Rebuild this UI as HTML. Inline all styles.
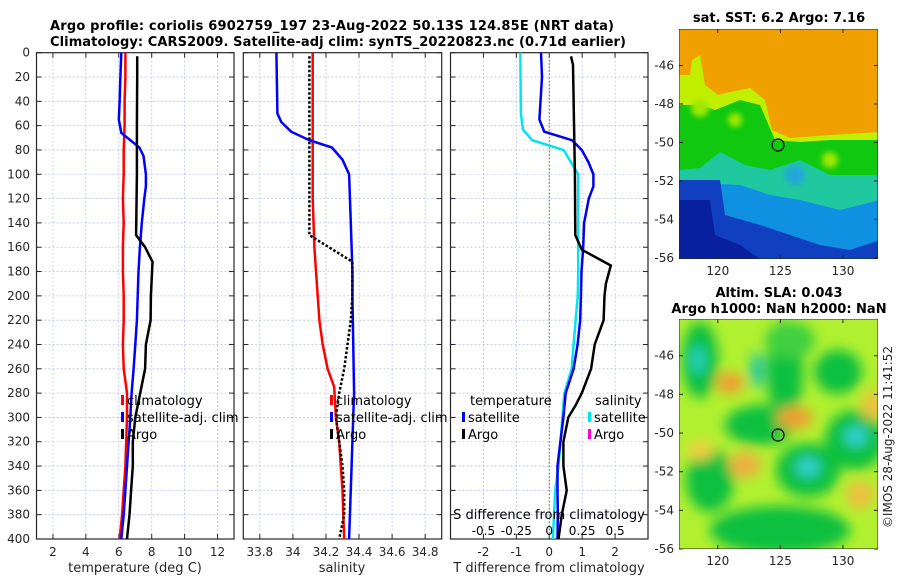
<!DOCTYPE html>
<html><head><meta charset="utf-8"><style>
body{margin:0;background:#fff;}
svg{display:block;font-family:"DejaVu Sans","Liberation Sans",sans-serif;}
.tk{font-size:12px;fill:#262626;}
.tt{font-size:13px;font-weight:bold;fill:#000;}
</style></head><body>
<svg id="fig" width="900" height="580" viewBox="0 0 900 580" xmlns="http://www.w3.org/2000/svg">
<defs>
<filter id="bl" x="-50%" y="-50%" width="200%" height="200%"><feGaussianBlur stdDeviation="6"/></filter>
<filter id="bl2" x="-50%" y="-50%" width="200%" height="200%"><feGaussianBlur stdDeviation="3"/></filter>
<clipPath id="cTop"><rect x="679" y="29" width="199" height="230"/></clipPath>
<clipPath id="cBot"><rect x="679" y="319" width="199" height="230"/></clipPath>
</defs>
<text class="tt" x="50" y="30" textLength="564">Argo profile: coriolis 6902759_197 23-Aug-2022 50.13S 124.85E (NRT data)</text>
<text class="tt" x="50" y="46" textLength="576">Climatology: CARS2009. Satellite-adj clim: synTS_20220823.nc (0.71d earlier)</text>
<g id="panels"></g>
<!-- SST map -->
<g clip-path="url(#cTop)">
<rect x="679" y="29" width="199" height="230" fill="#f0a000"/>
<path d="M679,75 L690,75 L692,60 L700,55 L705,85 L718,95 L730,92 L750,88 L765,100 L772,130 L790,138 L830,135 L880,132 L880,259 L679,259Z" fill="#c0f000"/>
<path d="M679,105 L700,105 L715,110 L740,100 L760,105 L775,140 L800,142 L830,140 L880,140 L880,259 L679,259Z" fill="#10c810"/>
<circle cx="700" cy="108" r="9" fill="#a0e800" filter="url(#bl2)"/>
<circle cx="735" cy="120" r="7" fill="#a0e800" filter="url(#bl2)"/>
<circle cx="830" cy="160" r="8" fill="#a0e800" filter="url(#bl2)"/>
<path d="M679,170 L700,168 L720,152 L745,165 L770,170 L800,160 L830,175 L880,175 L880,259 L679,259Z" fill="#20c8a0"/>
<path d="M679,182 L740,185 L770,195 L800,200 L840,210 L880,200 L880,259 L679,259Z" fill="#1090e0"/>
<circle cx="795" cy="175" r="10" fill="#20a8d8" filter="url(#bl2)"/>
<path d="M679,180 L720,180 L725,215 L760,225 L790,235 L820,245 L850,250 L880,240 L880,259 L679,259Z" fill="#1040c0"/>
<path d="M679,200 L710,200 L715,235 L740,245 L760,259 L679,259Z" fill="#0820a0"/>
<rect x="679" y="29" width="199" height="230" fill="none" stroke="#262626"/>
</g>
<circle cx="778" cy="145" r="6" fill="none" stroke="#000" stroke-width="1.2"/>
<text class="tt" x="779" y="22" text-anchor="middle">sat. SST: 6.2 Argo: 7.16</text>
<!-- SLA map -->
<g clip-path="url(#cBot)">
<rect x="679" y="319" width="199" height="230" fill="#b0f030"/>
<g filter="url(#bl)">
<ellipse cx="700" cy="360" rx="18" ry="38" fill="#10c040"/>
<ellipse cx="785" cy="370" rx="18" ry="50" fill="#10c040"/>
<ellipse cx="760" cy="425" rx="35" ry="20" fill="#10c040"/>
<ellipse cx="790" cy="340" rx="25" ry="18" fill="#40d040"/>
<ellipse cx="838" cy="372" rx="24" ry="22" fill="#10c040"/>
<ellipse cx="855" cy="440" rx="30" ry="30" fill="#10c040"/>
<ellipse cx="808" cy="470" rx="32" ry="27" fill="#10c040"/>
<ellipse cx="710" cy="480" rx="24" ry="32" fill="#10c040"/>
<ellipse cx="780" cy="530" rx="70" ry="24" fill="#10c040"/>
<ellipse cx="698" cy="360" rx="7" ry="15" fill="#20d0c0"/>
<ellipse cx="757" cy="370" rx="7" ry="18" fill="#20c8a0"/>
<ellipse cx="808" cy="467" rx="12" ry="10" fill="#30d0d0"/>
<ellipse cx="856" cy="436" rx="12" ry="10" fill="#30d0d0"/>
<ellipse cx="730" cy="383" rx="14" ry="11" fill="#f0a030"/>
<ellipse cx="795" cy="418" rx="18" ry="11" fill="#f0a030"/>
<ellipse cx="745" cy="465" rx="16" ry="13" fill="#f0b040"/>
<ellipse cx="700" cy="450" rx="14" ry="10" fill="#f0d040"/>
<ellipse cx="860" cy="495" rx="14" ry="14" fill="#f0c040"/>
<ellipse cx="872" cy="405" rx="10" ry="15" fill="#f0c040"/>
</g>
<rect x="679" y="319" width="199" height="230" fill="none" stroke="#262626"/>
</g>
<circle cx="778" cy="435" r="6" fill="none" stroke="#000" stroke-width="1.2"/>
<text class="tt" x="779" y="297" text-anchor="middle">Altim. SLA: 0.043</text>
<text class="tt" x="779" y="313" text-anchor="middle">Argo h1000: NaN h2000: NaN</text>
<text class="tk" transform="translate(892,437) rotate(-90)" text-anchor="middle">©IMOS 28-Aug-2022 11:41:52</text>
</svg>
<script>
// ---- data ----
const depthTicks = [0,20,40,60,80,100,120,140,160,180,200,220,240,260,280,300,320,340,360,380,400];
const tempTickLabels = [2,4,6,8,10,12];
const salTickLabels = [33.8,34,34.2,34.4,34.6,34.8];
const diffTickLabels = [-2,-1,0,1,2];
const sDiffTickLabels = [-0.5,-0.25,0,0.25,0.5];
const sstLatTicks = [-46,-48,-50,-52,-54,-56];
const lonTicks = [120,125,130];

const tClimDepth = [0,20,40,60,80,100,120,140,160,180,200,220,240,260,280,300,320,340,360,380,400];
const tClimVal   = [6.4,6.4,6.35,6.35,6.3,6.3,6.25,6.3,6.25,6.25,6.3,6.3,6.25,6.3,6.5,6.5,6.45,6.4,6.3,6.2,6.05];
const tSatDepth = [0,20,40,55,66,78,85,100,110,120,140,160,180,200,220,240,260,280,300,320,340,360,380,400];
const tSatVal   = [6.15,6.1,6.05,6.0,6.15,7.25,7.5,7.65,7.65,7.55,7.4,7.28,7.2,7.15,7.1,7.0,6.9,6.78,6.7,6.6,6.5,6.4,6.3,6.15];
const tArgoDepth = [3,20,60,100,150,160,172,200,220,240,260,280,300,320,340,360,380,400];
const tArgoVal   = [7.12,7.12,7.1,7.1,7.05,7.6,8.05,7.95,7.93,7.65,7.6,7.3,7.0,6.85,6.85,6.75,6.65,6.5];

const sClimDepth = [0,40,80,120,160,180,200,220,240,260,275,300,320,340,360,380,400];
const sClimVal   = [34.12,34.12,34.12,34.12,34.13,34.14,34.15,34.16,34.18,34.21,34.25,34.26,34.28,34.29,34.3,34.305,34.31];
const sSatDepth = [0,50,57,65,72,78,88,100,140,180,200,280,300,340,400];
const sSatVal   = [33.9,33.906,33.93,33.99,34.1,34.236,34.3,34.34,34.35,34.36,34.36,34.37,34.365,34.355,34.34];
const sArgoDepth = [3,40,100,150,172,200,220,240,260,280,300,320,340,360,380,400];
const sArgoVal   = [34.1,34.1,34.1,34.1,34.36,34.36,34.35,34.33,34.31,34.28,34.26,34.28,34.3,34.31,34.31,34.28];

const dTSatDepth = [0,20,55,65,72,80,90,100,110,120,140,160,180,200,220,240,260,280,300,320,340,360,380,400];
const dTSatVal   = [-0.25,-0.22,-0.3,-0.15,0.69,0.99,1.19,1.34,1.34,1.2,1.06,1.03,0.98,0.96,0.94,0.86,0.74,0.5,0.43,0.34,0.25,0.25,0.26,0.25];
const dTArgoDepth = [3,10,100,150,162,175,190,200,220,240,260,280,290,300,320,340,360,380,400];
const dTArgoVal   = [0.66,0.72,0.78,0.79,0.99,1.87,1.72,1.68,1.65,1.38,1.27,0.99,0.8,0.58,0.43,0.43,0.53,0.38,0.28];
const dSSatDepth = [0,50,63,72,80,100,140,180,200,220,260,280,300,340,360,400];
const dSSatVal   = [-0.22,-0.215,-0.2,-0.13,0.11,0.22,0.22,0.22,0.217,0.2,0.17,0.115,0.1,0.07,0.045,0.028];

// ---- axes ----
const Y0 = 52.7, Y1 = 539;
const py = d => Y0 + (d/400)*(Y1-Y0);
const P = [
  {x0:36.5, x1:234, lo:1, hi:13},
  {x0:243.3, x1:441.7, lo:33.7, hi:34.9},
  {x0:450.5, x1:648, lo:-3, hi:3}
];
const px = (p,v) => P[p].x0 + (v-P[p].lo)/(P[p].hi-P[p].lo)*(P[p].x1-P[p].x0);
const NS = 'http://www.w3.org/2000/svg';
const G = document.getElementById('panels');
function mk(tag, attrs, parent){ const e=document.createElementNS(NS,tag); for(const k in attrs) e.setAttribute(k,attrs[k]); (parent||G).appendChild(e); return e; }
function txt(s,x,y,anchor,cls,parent){ const t=mk('text',{x:x,y:y,'text-anchor':anchor||'middle',class:cls||'tk'},parent); t.textContent=s; return t; }

function panel(p, ticks, name){
  const g = mk('g',{});
  
  
  const {x0,x1} = P[p];
  depthTicks.forEach(d=>{
    if(d>0&&d<400) mk('line',{x1:x0,x2:x1,y1:py(d),y2:py(d),stroke:'#b8c0e0','stroke-width':0.8,'stroke-dasharray':'2,2'},g);
    mk('line',{x1:x0,x2:x0+5,y1:py(d),y2:py(d),stroke:'#262626'},g);
    mk('line',{x1:x1-5,x2:x1,y1:py(d),y2:py(d),stroke:'#262626'},g);
  });
  ticks.forEach(v=>{
    const x=px(p,v);
    mk('line',{x1:x,x2:x,y1:Y0,y2:Y1,stroke:'#b8c0e0','stroke-width':0.8,'stroke-dasharray':'2,2'},g);
    mk('line',{x1:x,x2:x,y1:Y1-5,y2:Y1,stroke:'#262626'},g);
    mk('line',{x1:x,x2:x,y1:Y0,y2:Y0+5,stroke:'#262626'},g);
    txt(String(v),x,556,'middle','tk',g);
  });
  mk('rect',{x:x0,y:Y0,width:x1-x0,height:Y1-Y0,fill:'none',stroke:'#262626','stroke-width':1.2},g);
  return g;
}
function series(p, depths, vals, color, name, dash, scale){
  const pts = depths.map((d,i)=>px(p,vals[i]*(scale||1)).toFixed(1)+','+py(d).toFixed(1)).join(' ');
  const l = mk('polyline',{points:pts,fill:'none',stroke:color,'stroke-width':2.5});
  if(dash) l.setAttribute('stroke-dasharray',dash);
  
  
}
function legend(x,y,color,label,name){
  const g = mk('g',{});
  
  
  mk('rect',{x:x,y:y-10,width:3,height:10,fill:color},g);
  txt(label,x+6,y,'start','tk',g).setAttribute('style','font-size:13px;fill:#000');
}

const g1 = panel(0, tempTickLabels, 'temperature-panel');
const g2 = panel(1, salTickLabels, 'salinity-panel');
const g3 = panel(2, diffTickLabels, 'difference-panel');
depthTicks.forEach(d=>{ const t=txt(String(d),30,py(d)+4,'end','tk');
  
   });
const zl = mk('line',{x1:px(2,0),x2:px(2,0),y1:Y0,y2:Y1,stroke:'#556b2f','stroke-width':1,'stroke-dasharray':'1.5,2'});



series(0,tClimDepth,tClimVal,'#ff0000','temp-climatology-line');
series(0,tSatDepth,tSatVal,'#0000ff','temp-satellite-line');
series(0,tArgoDepth,tArgoVal,'#000000','temp-argo-line');
series(1,sClimDepth,sClimVal,'#ff0000','sal-climatology-line');
series(1,sSatDepth,sSatVal,'#0000ff','sal-satellite-line');
series(1,sArgoDepth,sArgoVal,'#000000','sal-argo-line','2.5,2');
series(2,dSSatDepth,dSSatVal,'#00e5ee','sdiff-satellite-line',null,4);
series(2,dTSatDepth,dTSatVal,'#0000ee','tdiff-satellite-line');
series(2,dTArgoDepth,dTArgoVal,'#000000','tdiff-argo-line');

let t;
t=txt('temperature (deg C)',135,572,'middle','tk'); t.setAttribute('style','font-size:13px');
 
t=txt('salinity',342,572,'middle','tk'); t.setAttribute('style','font-size:13px');
 
t=txt('T difference from climatology',549,572,'middle','tk'); t.setAttribute('style','font-size:13px');
 
t=txt('S difference from climatology',549,519,'middle','tk'); t.setAttribute('style','font-size:13px;fill:#000');
 
sDiffTickLabels.forEach(v=>{ const s=txt(String(v),px(2,v*4),535,'middle','tk');
  s.setAttribute('style','font-size:12px;fill:#000');
  
   });

legend(121,405,'#ff0000','climatology','legend-temp-climatology');
legend(121,422,'#0000ff','satellite-adj. clim','legend-temp-satellite');
legend(121,439,'#000000','Argo','legend-temp-argo');
legend(330,405,'#ff0000','climatology','legend-sal-climatology');
legend(330,422,'#0000ff','satellite-adj. clim','legend-sal-satellite');
legend(330,439,'#000000','Argo','legend-sal-argo');
t=txt('temperature',470,405,'start','tk'); t.setAttribute('style','font-size:13px;fill:#000');
 
legend(462,422,'#0000ee','satellite','legend-tdiff-satellite');
legend(462,439,'#000000','Argo','legend-tdiff-argo');
t=txt('salinity',595,405,'start','tk'); t.setAttribute('style','font-size:13px;fill:#000');
 
legend(588,422,'#00e5ee','satellite','legend-sdiff-satellite');
legend(588,439,'#ff00cc','Argo','legend-sdiff-argo');

const svg = document.getElementById('fig');
function mapAxes(top, bottom, latTop, latBot, name){
  const g = mk('g',{},svg);
  
  
  const my = lat => top + (latTop-lat)/(latTop-latBot)*(bottom-top);
  const mx = lon => 679 + (lon-116.9)/(132.8-116.9)*199;
  sstLatTicks.forEach(lat=>{ const y=my(lat);
    mk('line',{x1:679,x2:683,y1:y,y2:y,stroke:'#262626'},g);
    mk('line',{x1:874,x2:878,y1:y,y2:y,stroke:'#262626'},g);
    txt(String(lat),674,y+4,'end','tk',g); });
  lonTicks.forEach(lon=>{ const x=mx(lon);
    mk('line',{x1:x,x2:x,y1:bottom-4,y2:bottom,stroke:'#262626'},g);
    mk('line',{x1:x,x2:x,y1:top,y2:top+4,stroke:'#262626'},g);
    txt(String(lon),x,bottom+16,'middle','tk',g); });
}
mapAxes(29,259,-44.1,-56.06,'sst-map-axes');
mapAxes(319,549,-44.1,-56.0,'sla-map-axes');
</script>
</body></html>
